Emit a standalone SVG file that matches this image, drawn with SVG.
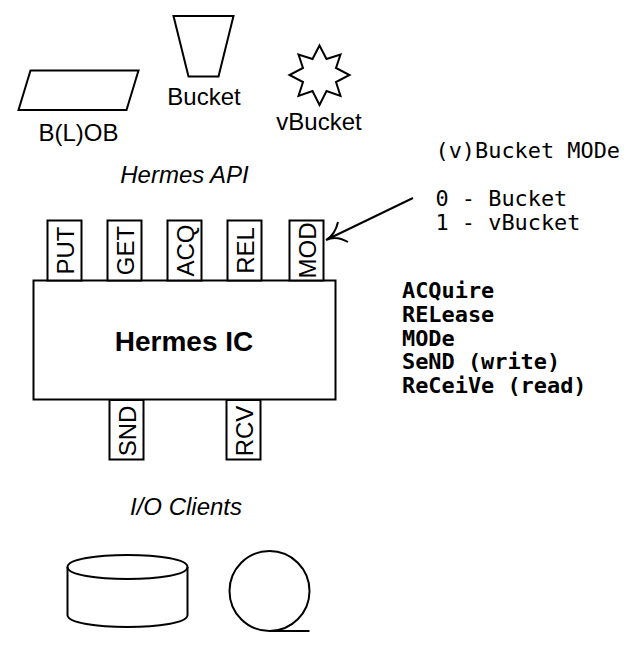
<svg xmlns="http://www.w3.org/2000/svg" width="642" height="648" viewBox="0 0 642 648">
<style>
.s{fill:#fff;stroke:#000;stroke-width:2;stroke-linejoin:miter}
.n{fill:none;stroke:#000;stroke-width:2}
text{font-family:"Liberation Sans",Arial,sans-serif;font-size:24px;fill:#000}
.c{text-anchor:middle}
.i{font-style:italic}
.m{font-family:"DejaVu Sans Mono",monospace;font-size:21.9px}
.b{font-weight:bold}
</style>
<rect width="642" height="648" fill="#fff"/>
<g id="blob"><polygon class="s" points="30.500,70.500 138.500,70.500 126.500,110 18.500,110"/><text class="c" x="78.500" y="141">B(L)OB</text></g>
<g id="bucket"><polygon class="s" points="173.500,16 233.500,16 218.500,76.500 188.500,76.500"/><text class="c" x="204" y="105">Bucket</text></g>
<g id="vbucket"><polygon class="s" points="319.500,45.500 326.500,59 340.500,54.500 336,68 349.500,75 336,82 340.500,96 326.500,91 319.500,105 312.500,91 298.500,96 303,82 289.500,75 303,68 298.500,54.500 312.500,59"/><text class="c" x="319" y="130">vBucket</text></g>
<text id="api-title" class="c i" x="184.500" y="183">Hermes API</text>
<g id="hermes-ic"><rect class="s" x="33.500" y="280.500" width="302" height="119"/><text class="c b" x="184" y="351" style="font-size:28px">Hermes IC</text></g>
<g id="put"><rect class="s" x="47.500" y="220.500" width="34" height="60"/><text class="c" transform="translate(74 250.500) rotate(-90)">PUT</text></g>
<g id="get"><rect class="s" x="107.500" y="220.500" width="34" height="60"/><text class="c" transform="translate(134 250.500) rotate(-90)">GET</text></g>
<g id="acq"><rect class="s" x="167.500" y="220.500" width="34" height="60"/><text class="c" transform="translate(194 250.500) rotate(-90)">ACQ</text></g>
<g id="rel"><rect class="s" x="227.500" y="220.500" width="34" height="60"/><text class="c" transform="translate(254 250.500) rotate(-90)">REL</text></g>
<g id="mod"><rect class="s" x="289.500" y="220.500" width="34" height="60"/><text class="c" transform="translate(316 250.500) rotate(-90)">MOD</text></g>
<g id="snd"><rect class="s" x="109.500" y="400" width="34" height="59.500"/><text class="c" transform="translate(136 431) rotate(-90)">SND</text></g>
<g id="rcv"><rect class="s" x="226.500" y="400" width="34" height="59.500"/><text class="c" transform="translate(253 431) rotate(-90)">RCV</text></g>
<g id="connectors"><path class="n" d="M413 198L326 240M338 222Q335 235 326 240Q336 235 348 242"/></g>
<g id="notes">
<text class="m" x="435.500" y="158">(v)Bucket MODe</text>
<text class="m" x="435.500" y="206">0 - Bucket</text>
<text class="m" x="435.500" y="230">1 - vBucket</text>
<text class="m b" x="402" y="298">ACQuire</text>
<text class="m b" x="402" y="322">RELease</text>
<text class="m b" x="402" y="346">MODe</text>
<text class="m b" x="402" y="369">SeND (write)</text>
<text class="m b" x="402" y="393">ReCeiVe (read)</text>
</g>
<text id="io-title" class="c i" x="186" y="515">I/O Clients</text>
<g id="disk"><path class="s" d="M67.500 567C67.500 551 187.500 551 187.500 567V615C187.500 631 67.500 631 67.500 615Z"/><path class="n" d="M67.500 567C67.500 583 187.500 583 187.500 567"/></g>
<g id="tape"><circle class="s" cx="269.500" cy="591" r="40"/><path class="n" d="M269.500 631H309.500"/></g>
</svg>
